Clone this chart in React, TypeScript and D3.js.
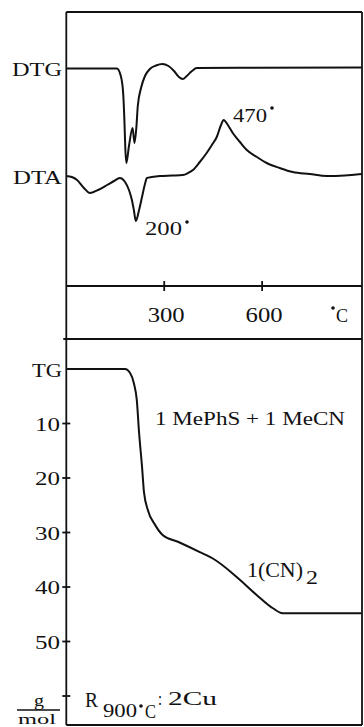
import * as d3 from 'd3';

// temperature axis (°C) shared by all curves
const tempTicks = [300, 600];
const tempMax = 906;

// DTG trace, arbitrary units (higher = up)
const dtgTemp = [0, 155, 167, 174, 178, 181, 184, 192, 203, 209, 215, 219, 229, 241, 256, 275, 294, 313, 330, 345, 357, 369, 385, 400, 905];
const dtgSignal = [217.5, 217.5, 210, 194, 166, 136, 123, 140, 158, 143, 160, 180, 198, 210, 217, 220.5, 222, 220, 215, 209, 207, 210, 215, 218, 218.5];

// DTA trace, arbitrary units
const dtaTemp = [0, 17, 33, 54, 72, 97, 125, 146, 164, 180, 192, 201, 207, 213, 223, 232, 241, 247, 262, 287, 324, 357, 373, 388, 409, 430, 446, 461, 474, 482, 495, 510, 532, 553, 584, 614, 654, 694, 746, 798, 853, 905];
const dtaSignal = [110, 109, 106, 98, 93, 96, 101, 105, 108, 104, 96, 86, 76, 65, 76, 89, 102, 108, 109, 110, 110.5, 111, 113, 116, 124, 133, 141, 149, 161, 166, 161, 153, 144, 136, 129, 123, 118, 114, 112, 110, 110.5, 112];

// TG mass loss, g/mol
const tgTemp = [0, 180, 195, 207, 216, 223, 232, 238, 250, 272, 296, 342, 409, 455, 523, 584, 633, 663, 905];
const tgLoss = [0, 0, 0.7, 2.6, 5.7, 11.7, 17.9, 22.6, 25.9, 28.6, 30.5, 31.7, 33.6, 35, 38.2, 41.5, 43.9, 44.8, 44.8];
const tgTicks = [10, 20, 30, 40, 50];
const tgMax = 60;

const W = 364;
const H = 727;
const top = 12;
const axisY = 286;
const split = 339;
const bottom = 725;

const x = d3.scaleLinear().domain([0, tempMax]).range([66.3, 362]);
const yTop = d3.scaleLinear().domain([0, 274]).range([axisY, top]);
const yTg = d3.scaleLinear().domain([0, tgMax]).range([369, 696]);

const ink = '#111';
const font = '"Liberation Serif", "DejaVu Serif", serif';

const lineTop = d3
    .line<[number, number]>()
    .x(d => x(d[0]))
    .y(d => yTop(d[1]))
    .curve(d3.curveMonotoneX);

const lineTg = d3
    .line<[number, number]>()
    .x(d => x(d[0]))
    .y(d => yTg(d[1]))
    .curve(d3.curveMonotoneX);

const zip = (a: number[], b: number[]) => a.map((v, i) => [v, b[i]] as [number, number]);

const Label = ({ x, y, w, size, anchor = 'start', children }: any) => (
    <text
        x={x}
        y={y}
        fontSize={size}
        textAnchor={anchor}
        textLength={w}
        lengthAdjust="spacingAndGlyphs"
        fill={ink}
    >
        {children}
    </text>
);

const Dot = ({ cx, cy }: { cx: number; cy: number }) => <circle cx={cx} cy={cy} r={1.8} fill={ink} />;

export default function App() {
    const x0 = x(0);
    const x1 = x(tempMax);
    return (
        <svg
            width={W}
            height={H}
            style={{ position: 'absolute', left: 0, top: 0, background: '#fff' }}
            fontFamily={font}
        >
            <rect width={W} height={H} fill="#fff" />
            {/* frame */}
            <g stroke={ink} strokeWidth={1.8} fill="none">
                <line x1={x0} x2={x1} y1={top} y2={top} />
                <line x1={x0} x2={x0} y1={top} y2={bottom} />
                <line x1={x1} x2={x1} y1={top} y2={bottom} />
                <line x1={x0} x2={x1} y1={axisY} y2={axisY} />
                <line x1={x0 - 3} x2={x1} y1={split} y2={split} />
                <line x1={x0} x2={x1} y1={bottom} y2={bottom} />
                {tempTicks.map(t => (
                    <line key={t} x1={x(t)} x2={x(t)} y1={axisY - 5} y2={axisY + 5} />
                ))}
                {[...tgTicks, tgMax].map(t => (
                    <line key={t} x1={x0 - 4} x2={x0 + 4} y1={yTg(t)} y2={yTg(t)} />
                ))}
            </g>

            {/* curves */}
            <g stroke={ink} strokeWidth={2} fill="none" strokeLinejoin="round">
                <path d={lineTop(zip(dtgTemp, dtgSignal)) ?? ''} />
                <path d={lineTop(zip(dtaTemp, dtaSignal)) ?? ''} />
                <path d={lineTg(zip(tgTemp, tgLoss)) ?? ''} />
            </g>

            {/* curve names */}
            <Label x={62} y={76} w={50} size={19} anchor="end">DTG</Label>
            <Label x={62} y={184} w={49} size={19} anchor="end">DTA</Label>
            <Label x={62} y={377} w={30} size={18} anchor="end">TG</Label>

            {/* peak annotations */}
            <Label x={233} y={122} w={34} size={18}>470</Label>
            <Dot cx={272} cy={108} />
            <Label x={145} y={235} w={37} size={18}>200</Label>
            <Dot cx={187} cy={222} />

            {/* temperature axis labels */}
            {tempTicks.map(t => (
                <Label key={t} x={x(t) + 2} y={322} w={37} size={20} anchor="middle">
                    {t}
                </Label>
            ))}
            <Dot cx={333} cy={308} />
            <Label x={336} y={322} w={12} size={19}>C</Label>

            {/* TG axis labels */}
            {tgTicks.map(t => (
                <Label key={t} x={60} y={yTg(t) + 7} w={25} size={18} anchor="end">
                    {t}
                </Label>
            ))}
            <Label x={39} y={706} w={10} size={17} anchor="middle">g</Label>
            <line x1={17} x2={60} y1={710} y2={710} stroke={ink} strokeWidth={1.5} />
            <Label x={37} y={724} w={38} size={15} anchor="middle">mol</Label>

            {/* step annotations */}
            <Label x={155} y={425} w={190} size={19}>1 MePhS + 1 MeCN</Label>
            <Label x={247} y={577} w={56} size={20}>1(CN)</Label>
            <Label x={306} y={584} w={12} size={18}>2</Label>
            <Label x={85} y={707} w={13} size={21}>R</Label>
            <Label x={103} y={717} w={34} size={19}>900</Label>
            <Dot cx={141} cy={706} />
            <Label x={145} y={718} w={11} size={19}>C</Label>
            <Label x={158} y={705} w={4} size={19}>:</Label>
            <Label x={168} y={705} w={49} size={19}>2Cu</Label>
        </svg>
    );
}
